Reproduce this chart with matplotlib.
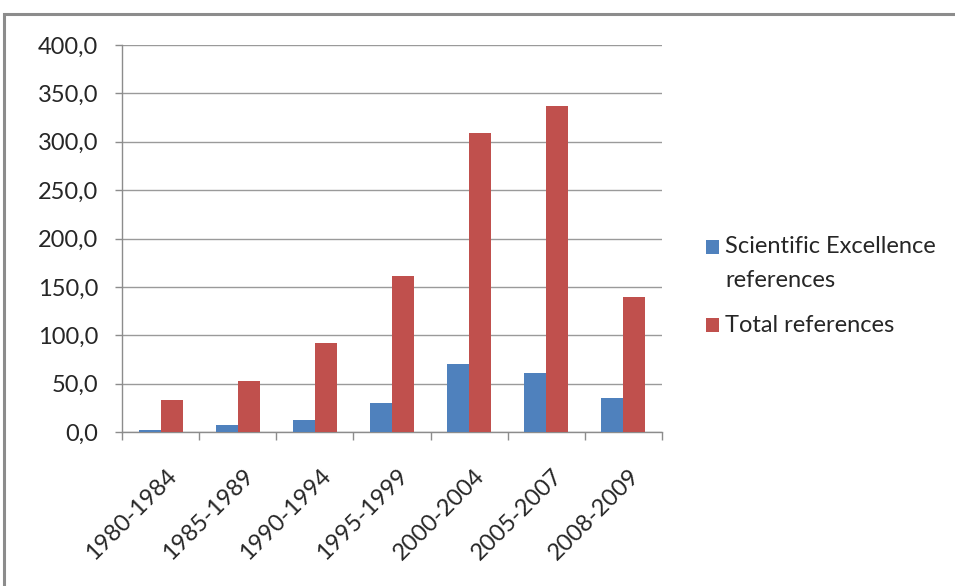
import matplotlib
matplotlib.use("Agg")
import matplotlib.pyplot as plt
import matplotlib.transforms as mtransforms
import numpy as np
from matplotlib.patches import Rectangle

categories = ["1980-1984", "1985-1989", "1990-1994", "1995-1999", "2000-2004", "2005-2007", "2008-2009"]
excellence = [2.1, 7.3, 12.8, 30.2, 70.1, 61.1, 35.4]
total = [32.6, 52.8, 91.7, 161.7, 309.3, 337.3, 139.5]
yticks = [0, 50, 100, 150, 200, 250, 300, 350, 400]
ytick_labels = ["0,0", "50,0", "100,0", "150,0", "200,0", "250,0", "300,0", "350,0", "400,0"]
series_lines = [["Scientific Excellence", "references"], ["Total references"]]
colors = ["#4F81BD", "#C0504D"]

plt.rcParams['font.family'] = ['Lato', 'DejaVu Sans']
FS = 17
TXT = "#262626"

W, H = 955, 586
fig = plt.figure(figsize=(W / 100, H / 100), dpi=100)

# outer chart frame
fig.patches.append(Rectangle((4 / W, -0.1), 1.2, 1 - 14 / H + 0.1, transform=fig.transFigure,
                             fill=False, edgecolor="#8c8c8c", linewidth=2.2, zorder=0))

ax = fig.add_axes([122 / W, 1 - 432 / H, (662 - 122) / W, (432 - 45) / H])
x = np.arange(len(categories))
bw = 0.2857
ax.bar(x - bw / 2, excellence, width=bw, color=colors[0], zorder=3)
ax.bar(x + bw / 2, total, width=bw, color=colors[1], zorder=3)

ax.set_xlim(-0.5, len(categories) - 0.5)
ax.set_ylim(0, 400)
ax.set_yticks(yticks)
ax.set_yticklabels(ytick_labels, fontsize=FS, color=TXT)
ax.yaxis.grid(True, color="#9a9a9a", linewidth=1, zorder=0)
ax.set_axisbelow(True)

ax.set_xticks(x)
ax.set_xticklabels(categories, rotation=45, ha="right", rotation_mode="anchor", fontsize=FS, color=TXT)
ax.tick_params(axis="x", length=0, pad=24)
offset = mtransforms.ScaledTranslation(5 / 100, 0, fig.dpi_scale_trans)
for lbl in ax.get_xticklabels():
    lbl.set_transform(lbl.get_transform() + offset)
ax.set_xticks(np.arange(-0.5, len(categories), 1), minor=True)
ax.tick_params(axis="x", which="minor", length=6, color="#8c8c8c", width=1)
ax.tick_params(axis="y", length=5, color="#8c8c8c", width=1, pad=12)

for s in ["top", "right"]:
    ax.spines[s].set_visible(False)
for s in ["left", "bottom"]:
    ax.spines[s].set_color("#8c8c8c")
    ax.spines[s].set_linewidth(1)

# legend drawn manually (square markers aligned with first text line)
line_centers = [[247, 281], [325]]
for color, lines, ys in zip(colors, series_lines, line_centers):
    fig.patches.append(Rectangle((706 / W, 1 - (ys[0] + 7) / H), 13 / W, 14 / H,
                                 transform=fig.transFigure, facecolor=color, edgecolor="none"))
    for text, yc in zip(lines, ys):
        fig.text(725 / W, 1 - yc / H, text, fontsize=FS, color=TXT, ha="left", va="center")

fig.savefig("out.png", dpi=100, facecolor="white")
